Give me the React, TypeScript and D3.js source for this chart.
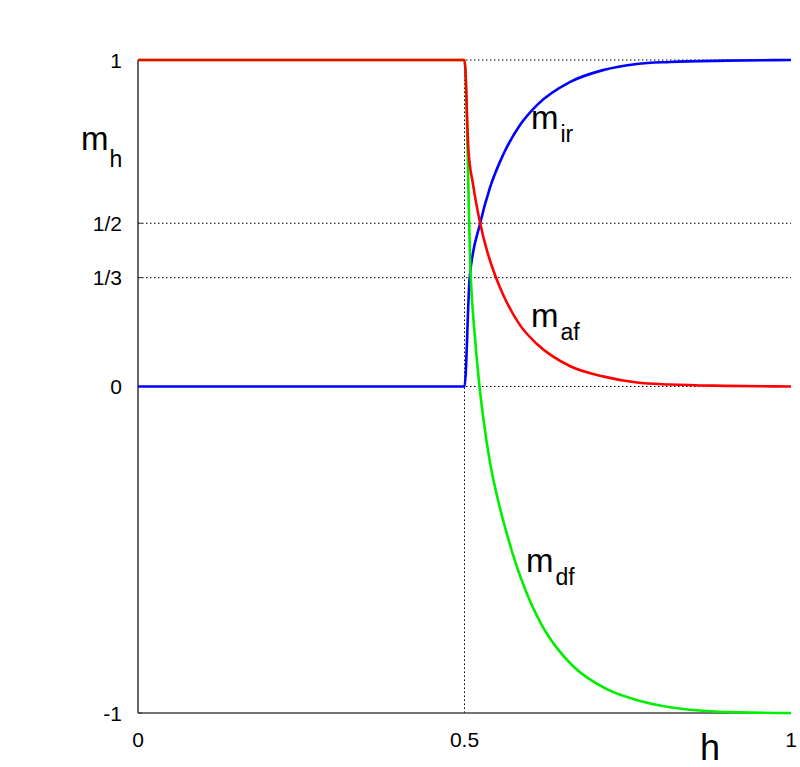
import React from 'react';
import * as d3 from 'd3';

// m_ir (blue)
const H_IR = [0, 0.5, 0.508, 0.524, 0.539, 0.559, 0.585, 0.611, 0.662, 0.712, 0.764, 0.815, 0.9, 1];
const M_IR = [0, 0, 0.336, 0.5, 0.609, 0.709, 0.801, 0.862, 0.933, 0.969, 0.988, 0.994, 0.998, 1];

// m_af (red)
const H_AF = [0, 0.5, 0.506, 0.513, 0.524, 0.534, 0.547, 0.559, 0.585, 0.611, 0.662, 0.712, 0.764, 0.815, 0.9, 1];
const M_AF = [1, 1, 0.725, 0.62, 0.5, 0.419, 0.34, 0.282, 0.188, 0.13, 0.062, 0.031, 0.012, 0.006, 0.002, 0];

// m_df (green)
const H_DF = [0, 0.5, 0.5095, 0.516, 0.523, 0.529, 0.539, 0.553, 0.565, 0.579, 0.593, 0.619, 0.642, 0.666, 0.718, 0.769, 0.845, 0.92, 1];
const M_DF = [1, 1, 0.336, 0.15, 0.0, -0.1, -0.232, -0.362, -0.452, -0.545, -0.622, -0.733, -0.802, -0.856, -0.927, -0.963, -0.99, -0.998, -1];

const Y_TICKS = [1, 1 / 2, 1 / 3, 0, -1];
const Y_LABELS = ['1', '1/2', '1/3', '0', '-1'];
const X_TICKS = [0, 0.5, 1];
const X_LABELS = ['0', '0.5', '1'];
const GRID_Y = [1, 1 / 2, 1 / 3, 0];
const GRID_X = [0.5];

const FONT = '"Liberation Sans", Arial, Helvetica, sans-serif';

const App: React.FC = () => {
    const width = 800;
    const height = 767;

    const x = d3.scaleLinear().domain([0, 1]).range([138, 791]);
    const y = d3.scaleLinear().domain([-1, 1]).range([713, 60]);

    const line = d3.line<[number, number]>()
        .x(d => x(d[0]))
        .y(d => y(d[1]))
        .curve(d3.curveMonotoneX);

    const series = [
        { h: H_IR, m: M_IR, color: '#0000ff' },
        { h: H_DF, m: M_DF, color: '#00ee00' },
        { h: H_AF, m: M_AF, color: '#ff0000' },
    ];

    const curveLabels = [
        { main: 'm', sub: 'ir', x: 531, y: 129 },
        { main: 'm', sub: 'af', x: 531, y: 327 },
        { main: 'm', sub: 'df', x: 526, y: 572 },
    ];

    return (
        <svg width={width} height={height} style={{ position: 'absolute', left: 0, top: 0, background: '#fff' }}
            fontFamily={FONT}>
            <rect x={0} y={0} width={width} height={height} fill="#fff" />

            {/* dotted grid */}
            {GRID_Y.map(v => (
                <line key={'gy' + v} x1={x(0)} x2={x(1)} y1={y(v)} y2={y(v)}
                    stroke="#000" strokeWidth={1} strokeDasharray="1.5,2.5" />
            ))}
            {GRID_X.map(v => (
                <line key={'gx' + v} x1={x(v)} x2={x(v)} y1={y(-1)} y2={y(1)}
                    stroke="#000" strokeWidth={1} strokeDasharray="1.5,2.5" />
            ))}

            {/* axes */}
            <line x1={x(0)} x2={x(0)} y1={y(-1)} y2={y(1)} stroke="#333" strokeWidth={1.5} />
            <line x1={x(0)} x2={x(1)} y1={y(-1)} y2={y(-1)} stroke="#444" strokeWidth={1.5} />
            {Y_TICKS.map(v => (
                <line key={'ty' + v} x1={x(0)} x2={x(0) + 4} y1={y(v)} y2={y(v)} stroke="#333" strokeWidth={1} />
            ))}

            {/* curves */}
            {series.map((s, i) => (
                <path key={i}
                    d={line(s.h.map((h, j) => [h, s.m[j]] as [number, number])) || ''}
                    fill="none" stroke={s.color} strokeWidth={2.6} strokeLinejoin="round" />
            ))}

            {/* tick labels */}
            {Y_TICKS.map((v, i) => (
                <text key={'ly' + i} x={122} y={y(v) + 7.5} textAnchor="end" fontSize={21} fill="#000">
                    {Y_LABELS[i]}
                </text>
            ))}
            {X_TICKS.map((v, i) => (
                <text key={'lx' + i} x={x(v)} y={747} textAnchor="middle" fontSize={21} fill="#000">
                    {X_LABELS[i]}
                </text>
            ))}

            {/* axis titles */}
            <text x={700} y={760} fontSize={36} fill="#000">h</text>
            <text x={81} y={150} fontSize={33} fill="#000">
                m<tspan fontSize={23} dx={1} dy={17}>h</tspan>
            </text>

            {/* curve labels */}
            {curveLabels.map((l, i) => (
                <text key={'cl' + i} x={l.x} y={l.y} fontSize={33} fill="#000">
                    {l.main}<tspan fontSize={23} dx={2} dy={13}>{l.sub}</tspan>
                </text>
            ))}
        </svg>
    );
};

export default App;
